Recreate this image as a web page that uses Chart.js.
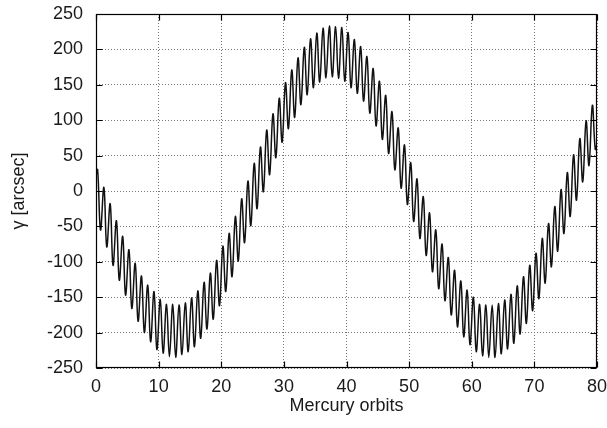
<!DOCTYPE html>
<html>
<head>
<meta charset="utf-8">
<script src="https://cdn.jsdelivr.net/npm/chart.js@4"></script>
<style>
  html, body { margin: 0; padding: 0; background: #fff; }
  #wrap { width: 607px; height: 428px; }
</style>
</head>
<body>
<div id="wrap"><canvas id="gammaChart" width="607" height="428"></canvas></div>
<script>
// gamma [arcsec]: one peak and one trough per Mercury orbit
const peakValues = [
    30, 5, -18, -42, -64, -83, -102, -120, -133, -142,
    -153, -160, -160, -161, -158, -151, -141, -129, -116, -98,
    -78, -60, -36, -11, 14, 39, 62, 86, 109, 131,
    153, 171, 188, 203, 215, 223, 230, 233, 232, 231,
    224, 214, 204, 190, 173, 155, 135, 112, 89, 65,
    40, 17, -8, -31, -55, -75, -94, -112, -127, -140,
    -150, -160, -161, -161, -159, -154, -146, -134, -121, -105,
    -88, -67, -46, -22, 2, 26, 51, 74, 99, 121
];
const troughValues = [
    -55, -79, -105, -126, -147, -166, -184, -200, -213, -224,
    -229, -234, -235, -231, -227, -220, -208, -195, -181, -162,
    -142, -121, -99, -73, -49, -25, -1, 23, 47, 69,
    88, 104, 122, 136, 146, 154, 160, 161, 159, 155,
    146, 138, 127, 110, 92, 73, 53, 30, 4, -19,
    -43, -67, -91, -114, -138, -155, -175, -192, -206, -217,
    -227, -233, -235, -235, -230, -223, -215, -202, -187, -169,
    -152, -130, -107, -85, -60, -36, -13, 13, 36, 59
];
const peakPhase = 0.26;    // where in each orbit the peak sits
const troughPhase = 0.72;
const startValue = 22;     // gamma at orbit 0
const endValue = 66;       // gamma at orbit 80

const xTicks = [0, 10, 20, 30, 40, 50, 60, 70, 80];
const yTicks = [-250, -200, -150, -100, -50, 0, 50, 100, 150, 200, 250];

const labelFont = { family: "'Liberation Sans', Arial, sans-serif", size: 18 };
const textColor = "#1a1a1a";

// Build the line points (orbit, gamma)
const points = [{ x: 0, y: startValue }];
peakValues.forEach((p, k) => {
    points.push({ x: k + peakPhase, y: p });
    points.push({ x: k + troughPhase, y: troughValues[k] });
});
points.push({ x: xTicks[xTicks.length - 1], y: endValue });

// gnuplot-like frame with inward tick marks
const frameTicks = {
    id: "frameTicks",
    afterDatasetsDraw(chart) {
        const { ctx, chartArea: a, scales } = chart;
        const L = Math.round(a.left) + 0.5, R = Math.round(a.right) - 0.5;
        const T = Math.round(a.top) + 0.5, B = Math.round(a.bottom) - 0.5;
        ctx.save();
        ctx.setLineDash([]);
        ctx.strokeStyle = "#000";
        ctx.lineWidth = 1.2;
        ctx.strokeRect(L, T, R - L, B - T);
        ctx.beginPath();
        xTicks.forEach(v => {
            const px = Math.round(scales.x.getPixelForValue(v)) + 0.5;
            ctx.moveTo(px, B); ctx.lineTo(px, B - 6);
            ctx.moveTo(px, T); ctx.lineTo(px, T + 6);
        });
        yTicks.forEach(v => {
            const py = Math.round(scales.y.getPixelForValue(v)) + 0.5;
            ctx.moveTo(L, py); ctx.lineTo(L + 6, py);
            ctx.moveTo(R, py); ctx.lineTo(R - 6, py);
        });
        ctx.stroke();
        ctx.restore();
    }
};

// fixed box sizes, no extra room for overhanging labels
const fitBox = size => s => {
    if (s.isHorizontal()) s.height = size; else s.width = size;
    s.paddingTop = s.paddingBottom = s.paddingLeft = s.paddingRight = 0;
};

const ctx = document.getElementById("gammaChart").getContext("2d");
new Chart(ctx, {
    type: "line",
    data: {
        datasets: [{
            data: points,
            borderColor: "#111",
            borderWidth: 1.5,
            pointRadius: 0,
            tension: 0.4,
            fill: false
        }]
    },
    options: {
        responsive: false,
        animation: false,
        layout: { padding: { top: 14, right: 10, left: 0, bottom: 0 } },
        plugins: {
            legend: { display: false },
            tooltip: { enabled: false }
        },
        scales: {
            x: {
                type: "linear",
                min: 0,
                max: 80,
                afterBuildTicks: s => { s.ticks = xTicks.map(v => ({ value: v })); },
                afterFit: fitBox(60),
                grid: { color: "#777", lineWidth: 1, drawTicks: false },
                border: { display: false, dash: [1, 2] },
                ticks: { padding: 8, color: textColor, font: labelFont, maxRotation: 0 },
                title: {
                    display: true,
                    text: "Mercury orbits",
                    color: textColor,
                    font: labelFont,
                    padding: { top: 0, bottom: 11 }
                }
            },
            y: {
                min: -250,
                max: 250,
                afterBuildTicks: s => { s.ticks = yTicks.map(v => ({ value: v })); },
                afterFit: fitBox(96),
                grid: { color: "#777", lineWidth: 1, drawTicks: false },
                border: { display: false, dash: [1, 2] },
                ticks: { padding: 13, color: textColor, font: labelFont },
                title: {
                    display: true,
                    text: "γ [arcsec]",
                    color: textColor,
                    font: labelFont,
                    padding: { top: 8, bottom: 0 }
                }
            }
        }
    },
    plugins: [frameTicks]
});
</script>
</body>
</html>
